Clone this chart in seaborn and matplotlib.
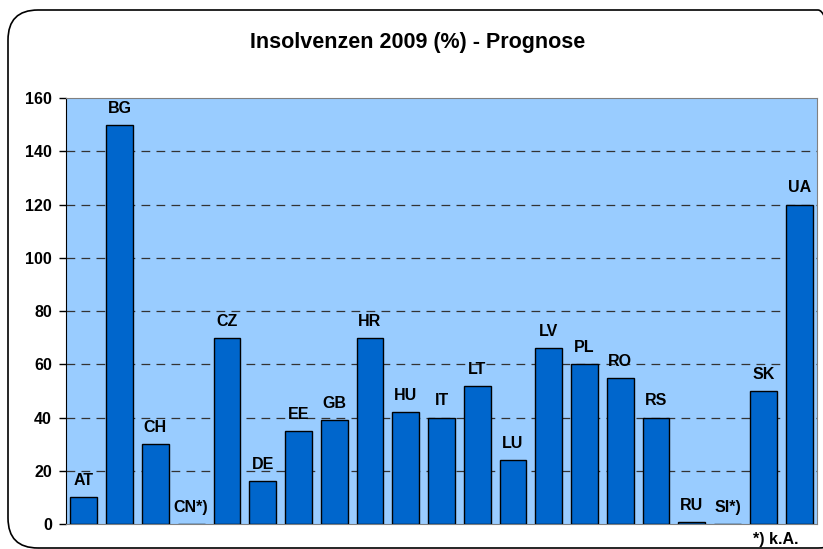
import matplotlib
matplotlib.use("Agg")
import matplotlib.pyplot as plt
import seaborn as sns
import pandas as pd
from matplotlib.patches import FancyBboxPatch

# Insolvency forecast 2009 (%) per country
countries = ['AT', 'BG', 'CH', 'CN*)', 'CZ', 'DE', 'EE', 'GB', 'HR', 'HU', 'IT',
             'LT', 'LU', 'LV', 'PL', 'RO', 'RS', 'RU', 'SI*)', 'SK', 'UA']
values = [10, 150, 30, 0, 70, 16, 35, 39, 70, 42, 40,
          52, 24, 66, 60, 55, 40, 0.6, 0, 50, 120]
yticks = [0, 20, 40, 60, 80, 100, 120, 140, 160]

df = pd.DataFrame({'land': countries, 'wert': values})

sns.set_style('white')
plt.rcParams['font.family'] = ['Liberation Sans', 'DejaVu Sans']
plt.rcParams['text.color'] = 'black'
plt.rcParams['ytick.color'] = 'black'

fig = plt.figure(figsize=(8.23, 5.49), dpi=100)
ax = fig.add_axes([0.0802, 0.0455, 0.9125, 0.776])

# rounded frame around the whole chart (runs off the right edge like the original)
frame = FancyBboxPatch((0.08, 0.01), 8.4, 5.38, boxstyle='round,pad=0,rounding_size=0.3',
                       transform=fig.dpi_scale_trans, fill=False, edgecolor='black',
                       linewidth=1.2, clip_on=False)
fig.patches.append(frame)

ax.set_facecolor('#99CCFF')
sns.barplot(data=df, x='land', y='wert', color='#0066CC', saturation=1, width=0.75,
            edgecolor='black', linewidth=1.0, ax=ax, zorder=3)

for i, (c, v) in enumerate(zip(countries, values)):
    ax.annotate(c, (i, v), xytext=(0, 6.5), textcoords='offset points', ha='center', va='bottom',
                fontsize=11.5, fontweight='bold', zorder=4)

ax.set_ylim(0, 160)
ax.set_xlim(-0.5, len(countries) - 0.5)
ax.set_yticks(yticks)
ax.set_yticklabels([str(t) for t in yticks], fontsize=11.5, fontweight='bold')
ax.set_xticks([])
ax.set_xlabel('')
ax.set_ylabel('')
for t in yticks[1:-1]:
    ax.axhline(t, color='#333333', linestyle=(0, (7, 5)), linewidth=0.9, zorder=2)
ax.tick_params(axis='y', which='both', left=True, length=5, width=1, direction='out', pad=5)
ax.spines['left'].set_color('black')
ax.spines['bottom'].set_color('#808080')
ax.spines['top'].set_color('#808080')
ax.spines['right'].set_color('#808080')

fig.text(0.508, 0.923, 'Insolvenzen 2009 (%) - Prognose', ha='center', va='center',
         fontsize=15.5, fontweight='bold')
fig.text(0.943, 0.018, '*) k.A.', ha='center', va='center', fontsize=11.5, fontweight='bold')

fig.savefig('out.png', dpi=100)
